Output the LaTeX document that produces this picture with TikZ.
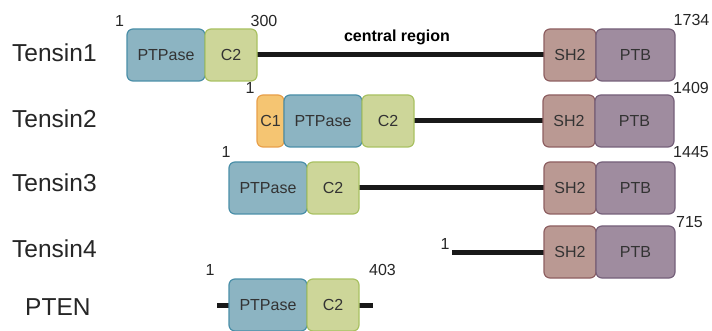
\documentclass[tikz,border=0pt]{standalone}
\usepackage{fontspec}
\setmainfont{Liberation Sans}
\pgfdeclarelayer{bg}
\pgfsetlayers{bg,main}
\definecolor{ptpfill}{HTML}{8CB4C2}
\definecolor{ptpdraw}{HTML}{4A8FA8}
\definecolor{ctwofill}{HTML}{CDD699}
\definecolor{ctwodraw}{HTML}{A9C162}
\definecolor{conefill}{HTML}{F5C572}
\definecolor{conedraw}{HTML}{E8A04A}
\definecolor{shfill}{HTML}{BA9993}
\definecolor{shdraw}{HTML}{8E5F61}
\definecolor{ptbfill}{HTML}{9F8C9F}
\definecolor{ptbdraw}{HTML}{75607A}
\definecolor{txt}{HTML}{333333}
\tikzset{
  dom/.style={rectangle, rounded corners=6pt, minimum height=52pt, inner sep=0pt, outer sep=0pt,
    anchor=west, line width=1.2pt, text=txt, font=\fontsize{16}{18}\selectfont},
  ptp/.style={dom, fill=ptpfill, draw=ptpdraw, minimum width=78pt},
  ctwo/.style={dom, fill=ctwofill, draw=ctwodraw, minimum width=52pt},
  cone/.style={dom, fill=conefill, draw=conedraw, minimum width=27pt},
  shtwo/.style={dom, fill=shfill, draw=shdraw, minimum width=52pt},
  ptb/.style={dom, fill=ptbfill, draw=ptbdraw, minimum width=79pt},
  link/.style={line width=5pt, black!90},
  rowlab/.style={anchor=base west, inner sep=0pt, text=black!85, font=\fontsize{24.5}{28}\selectfont},
  num/.style={anchor=base, inner sep=0pt, text=black!85, font=\fontsize{16}{18}\selectfont},
}
\begin{document}
\begin{tikzpicture}[x=1pt,y=-1pt]
\useasboundingbox (0,0) rectangle (712,331);
% row labels
\node[rowlab] (l1) at (12,62) {Tensin1};
\node[rowlab] (l2) at (12,128) {Tensin2};
\node[rowlab] (l3) at (12,192) {Tensin3};
\node[rowlab] (l4) at (12,257) {Tensin4};
\node[rowlab] (l5) at (25,315) {PTEN};
% Tensin1
\node[ptp] (t1p) at (127,55) {PTPase};
\node[ctwo] (t1c) at (205,55) {C2};
\node[shtwo] (t1s) at (544,55) {SH2};
\node[ptb] (t1b) at (596,55) {PTB};
\node[num] (n1a) at (119.5,27) {1};
\node[num] (n1b) at (264,27) {300};
\node[num] (n1c) at (691.5,26) {1734};
\node[anchor=base, inner sep=0pt, font=\bfseries\fontsize{16}{18}\selectfont] (cr) at (397,42) {central region};
% Tensin2
\node[cone] (t2a) at (257,121) {C1};
\node[ptp] (t2p) at (284,121) {PTPase};
\node[ctwo] (t2c) at (362,121) {C2};
\node[shtwo] (t2s) at (543,121) {SH2};
\node[ptb] (t2b) at (595,121) {PTB};
\node[num] (n2a) at (250,94) {1};
\node[num] (n2c) at (691,94) {1409};
% Tensin3
\node[ptp] (t3p) at (229,188) {PTPase};
\node[ctwo] (t3c) at (307,188) {C2};
\node[shtwo] (t3s) at (544,188) {SH2};
\node[ptb] (t3b) at (596,188) {PTB};
\node[num] (n3a) at (226,158) {1};
\node[num] (n3c) at (691,158) {1445};
% Tensin4
\coordinate (t4start) at (452,252);
\node[shtwo] (t4s) at (544,252) {SH2};
\node[ptb] (t4b) at (596,252) {PTB};
\node[num] (n4a) at (445,250) {1};
\node[num] (n4c) at (689.5,227) {715};
% PTEN
\coordinate (p5l) at (217,305);
\coordinate (p5r) at (373,305);
\node[ptp] (t5p) at (229,305) {PTPase};
\node[ctwo] (t5c) at (307,305) {C2};
\node[num] (n5a) at (210,275) {1};
\node[num] (n5c) at (382.5,275) {403};
% connectors behind the boxes
\begin{pgfonlayer}{bg}
\draw[link] (t1c.east) -- (t1s.west);
\draw[link] (t2c.east) -- (t2s.west);
\draw[link] (t3c.east) -- (t3s.west);
\draw[link] (t4start) -- (t4s.west);
\draw[link] (p5l) -- (t5p.west);
\draw[link] (t5c.east) -- (p5r);
\end{pgfonlayer}
\end{tikzpicture}
\end{document}
